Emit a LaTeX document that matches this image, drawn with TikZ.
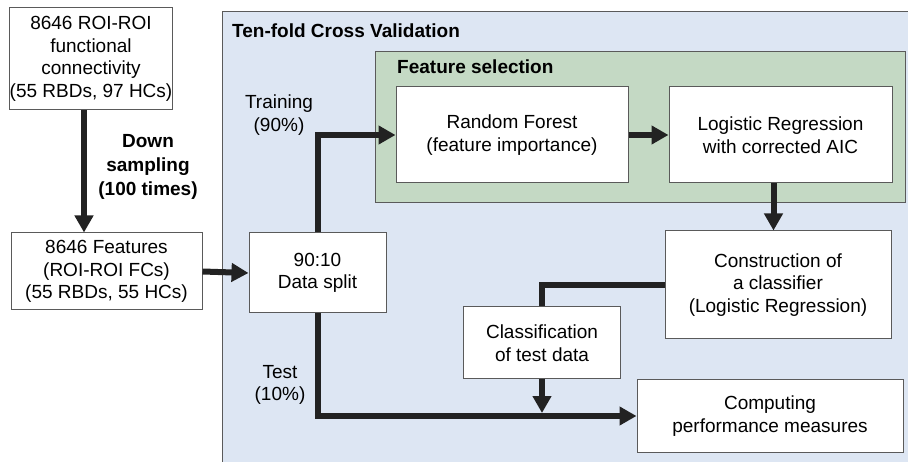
\documentclass[tikz,border=0pt]{standalone}
\usepackage{fontspec}
\setmainfont{Liberation Sans}
\usetikzlibrary{arrows.meta,calc}
\definecolor{cvblue}{HTML}{DDE6F3}
\definecolor{fsgreen}{HTML}{C4D9C4}
\definecolor{edgegray}{HTML}{5A5A5A}
\definecolor{flowline}{HTML}{222222}
\tikzset{
  box/.style={draw=edgegray, line width=1pt, fill=white, align=center,
    inner sep=0pt, font=\fontsize{19}{22.5}\selectfont},
  flow/.style={draw=flowline, line width=6pt},
  arr/.style={flow, -{Triangle[length=17pt,width=18pt]}},
  lbl/.style={align=center, inner sep=0pt, font=\fontsize{19}{22.5}\selectfont},
  ttl/.style={anchor=west, inner sep=0pt, font=\fontsize{19}{22.5}\selectfont\bfseries},
}
\begin{document}
\begin{tikzpicture}[x=1pt,y=-1pt]
\useasboundingbox (0,0) rectangle (908,462);
\clip (0,0) rectangle (908,462);
\fill[white] (0,0) rectangle (908,462);

% cross-validation and feature-selection panels
\draw[edgegray, line width=1pt, fill=cvblue] (222,12) rectangle (920,480);
\draw[edgegray, line width=1pt, fill=fsgreen] (375,52) rectangle (905,203);
\node[ttl] (cvtitle) at (232,31) {Ten-fold Cross Validation};
\node[ttl] (fstitle) at (397,67) {Feature selection};

% boxes
\node[box, minimum width=154, minimum height=102] (conn) at (91,59)
  {8646 ROI-ROI\\functional\\connectivity\\(55 RBDs, 97 HCs)};
\node[box, minimum width=191, minimum height=77] (feat) at (106.5,271.5)
  {8646 Features\\(ROI-ROI FCs)\\(55 RBDs, 55 HCs)};
\node[box, minimum width=137, minimum height=80] (split) at (317.5,273)
  {90:10\\Data split};
\node[box, minimum width=232, minimum height=96] (rf) at (512,135)
  {Random Forest\\(feature importance)};
\node[box, minimum width=223, minimum height=96] (lr) at (780.5,135)
  {Logistic Regression\\with corrected AIC};
\node[box, minimum width=226, minimum height=108] (cons) at (778,285)
  {Construction of\\a classifier\\(Logistic Regression)};
\node[box, minimum width=157, minimum height=72] (cls) at (542,343)
  {Classification\\of test data};
\node[box, minimum width=266, minimum height=72] (comp) at (770,416)
  {Computing\\performance measures};

% labels
\node[lbl, font=\fontsize{19}{24}\selectfont\bfseries] (down) at (148,167)
  {Down\\sampling\\(100 times)};
\node[lbl] (train) at (279,115) {Training\\(90\%)};
\node[lbl] (test) at (280,385) {Test\\(10\%)};

% connectors
\draw[arr] ([xshift=-7pt]conn.south) -- ([xshift=-7pt]conn.south |- feat.north);
\draw[arr] (feat.east) -- (split.west);
\draw[arr] (split.north) |- (rf.west);
\draw[arr] (rf.east) -- (lr.west);
\draw[arr] ([xshift=-7pt]lr.south) -- ([xshift=-7pt]lr.south |- cons.north);
\draw[flow] (cons.west) -| (cls.north);
\draw[arr] (split.south) |- (comp.west);
\draw[arr] (cls.south) -- ($(cls.south |- comp.west)+(0,-3)$);
\end{tikzpicture}
\end{document}
